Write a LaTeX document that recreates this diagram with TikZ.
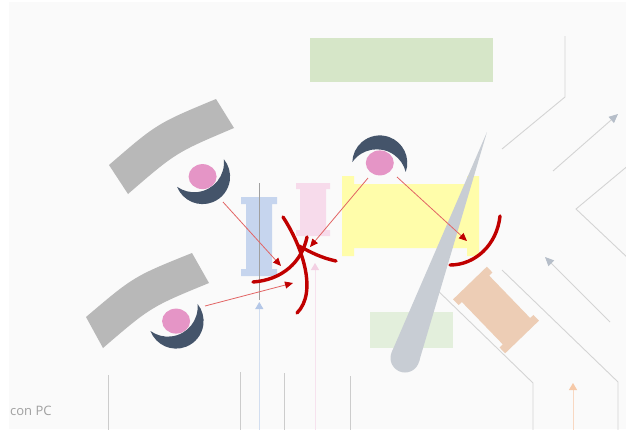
\documentclass[tikz,border=0pt]{standalone}
\usepackage{fontspec}
\setmainfont{Open Sans}
\usetikzlibrary{arrows.meta}

\definecolor{canvasbg}{HTML}{FAFAFA}
\definecolor{wire}{HTML}{D4D4D4}
\definecolor{wirearrow}{HTML}{B6BEC9}
\definecolor{wirebottom}{HTML}{CCCCCC}
\definecolor{greenA}{HTML}{D6E6C8}
\definecolor{greenB}{HTML}{E3EFDC}
\definecolor{yellowbox}{HTML}{FFFDAA}
\definecolor{bluebox}{HTML}{C6D5EE}
\definecolor{pinkbox}{HTML}{F7DBEB}
\definecolor{orangebox}{HTML}{EDCDB5}
\definecolor{bandgray}{HTML}{B8B8B8}
\definecolor{needlegray}{HTML}{C8CDD4}
\definecolor{eyedark}{HTML}{44546A}
\definecolor{eyepink}{HTML}{E595C6}
\definecolor{rayline}{HTML}{E26464}
\definecolor{darkred}{HTML}{C00000}
\definecolor{labelgray}{HTML}{A0A0A0}
\definecolor{bluewire}{HTML}{D2DEF0}
\definecolor{bluehead}{HTML}{B4C7E7}
\definecolor{pinkwire}{HTML}{F6E2EE}
\definecolor{pinkhead}{HTML}{F3D0E3}
\definecolor{orangewire}{HTML}{F8D8C2}
\definecolor{orangehead}{HTML}{F6C9A8}

% crescent eye with a pink pupil; #3 = direction of the thick side
\newcommand\placeeye[3]{%
  \begin{scope}[shift={(#1,#2)}]
    \begin{scope}[rotate=-#3]
      \fill[eyedark] (98.8:27.5) arc[start angle=98.8,end angle=-98.8,radius=27.5]
        -- ++(0,0) arc[start angle=-65.7,end angle=65.7,radius=29.8] -- cycle;
    \end{scope}
    \fill[eyepink] (0,0) ellipse (14 and 12.5);
  \end{scope}}

\begin{document}
\begin{tikzpicture}[x=1pt,y=-1pt,
  thinwire/.style={draw=wire,line width=0.9pt},
  bottomwire/.style={draw=wirebottom,line width=0.9pt},
  grayarrow/.style={draw=wire,line width=0.9pt,-{Triangle[length=9pt,width=8pt,fill=wirearrow,color=wirearrow]}},
  ray/.style={draw=rayline,line width=0.8pt,-{Triangle[length=8pt,width=7pt,color=darkred]}},
  wave/.style={draw=darkred,line width=3.4pt,line cap=round},
  band/.style={fill=bandgray},
]
\useasboundingbox (0,0) rectangle (626,429);
\fill[white] (0,0) rectangle (626,429);
\fill[canvasbg] (9,2) rectangle (626,429);

\begin{scope}
\clip (9,2) rectangle (626,429);

% background wiring
\coordinate (w1a) at (565,36);  \coordinate (w1b) at (565,97);  \coordinate (w1c) at (502,149);
\draw[thinwire] (w1a) -- (w1b) -- (w1c);
\coordinate (w3a) at (630,164); \coordinate (w3b) at (576,209); \coordinate (w3c) at (630,260);
\draw[thinwire] (w3a) -- (w3b) -- (w3c);
\coordinate (w5a) at (502,270); \coordinate (w5b) at (618,382); \coordinate (w5c) at (618,432);
\draw[thinwire] (w5a) -- (w5b) -- (w5c);
\coordinate (w6a) at (432,285); \coordinate (w6b) at (533,383); \coordinate (w6c) at (533,432);
\draw[thinwire] (w6a) -- (w6b) -- (w6c);
\coordinate (g2a) at (553,171); \coordinate (g2b) at (618,114);
\draw[grayarrow] (g2a) -- (g2b);
\coordinate (g4a) at (610,322); \coordinate (g4b) at (545,257);
\draw[grayarrow] (g4a) -- (g4b);

\foreach \xx/\yy [count=\i] in {108.7/375,240.7/372,284/373,350/376}{
  \coordinate (bt\i) at (\xx,\yy);
  \coordinate (bb\i) at (\xx,432);
  \draw[bottomwire] (bt\i) -- (bb\i);
}

% coloured arrows rising from the bottom edge
\coordinate (ba) at (259.3,432); \coordinate (bt) at (259.3,302);
\draw[draw=bluewire,line width=0.9pt,-{Triangle[length=7pt,width=8pt,color=bluehead]}] (ba) -- (bt);
\coordinate (pa) at (315,432); \coordinate (pt) at (315,263);
\draw[draw=pinkwire,line width=0.9pt,-{Triangle[length=7pt,width=8pt,color=pinkhead]}] (pa) -- (pt);
\coordinate (oa) at (573,432); \coordinate (ot) at (573,383);
\draw[draw=orangewire,line width=0.9pt,-{Triangle[length=7pt,width=8pt,color=orangehead]}] (oa) -- (ot);

% green panels
\fill[greenA] (309.5,38) rectangle (493,81.5);
\fill[greenB] (369.5,312) rectangle (452.5,347.5);

% yellow block with end plates
\fill[yellowbox] (342,176) -- (354,176) -- (354,184) -- (467,184) -- (467,176) -- (479,176)
  -- (479,256) -- (467,256) -- (467,248) -- (354,248) -- (354,256) -- (342,256) -- cycle;

% blue and pink I-pieces
\fill[bluebox] (241,197) -- (277,197) -- (277,204) -- (272,204) -- (272,269) -- (277,269)
  -- (277,276) -- (241,276) -- (241,269) -- (246,269) -- (246,204) -- (241,204) -- cycle;
\fill[pinkbox] (296,183) -- (330,183) -- (330,189) -- (326,189) -- (326,230) -- (330,230)
  -- (330,236) -- (296,236) -- (296,230) -- (300,230) -- (300,189) -- (296,189) -- cycle;

% orange piece, tilted
\begin{scope}[shift={(496,310)},rotate=-46]
  \fill[orangebox] (-37.5,-23.5) -- (-29.5,-23.5) -- (-29.5,-19) -- (29.5,-19) -- (29.5,-23.5)
    -- (37.5,-23.5) -- (37.5,23.5) -- (29.5,23.5) -- (29.5,19) -- (-29.5,19) -- (-29.5,23.5)
    -- (-37.5,23.5) -- cycle;
\end{scope}

% curved gray bands
\fill[band] (109,165) .. controls (157,123.5) .. (216,99) -- (234,128)
  .. controls (176,152.5) .. (128,194) -- cycle;
\fill[band] (86,317) .. controls (133.8,276.4) .. (192,253) -- (209,283)
  .. controls (150.8,306.9) .. (103,348) -- cycle;

% needle
\fill[needlegray] (487,132) -- (418.9,362.1) -- (391.7,352.2) -- cycle;
\fill[needlegray] (405,358) circle (14.5);

% gray post through the blue piece
\coordinate (post1) at (259.3,183); \coordinate (post2) at (259.3,300);
\draw[draw=labelgray,line width=1.4pt] (post1) -- (post2);

% eyes
\placeeye{202.6}{176.6}{59.3}
\placeeye{176.1}{321.1}{60}
\placeeye{379.8}{162.9}{-79.6}

% wave fronts
\draw[wave] (283,217) .. controls (302,246) and (318,292) .. (297,313);
\draw[wave] (253,282) .. controls (282,280) and (302,262) .. (307,237);
\draw[wave] (299,246) .. controls (312,253) and (322,258) .. (336,261);
\draw[wave] (500,216) .. controls (497,245) and (475,265) .. (450,265);

% rays
\coordinate (r1a) at (223,202); \coordinate (r1b) at (281,266);
\coordinate (r2a) at (205,306); \coordinate (r2b) at (293,283);
\coordinate (r3a) at (368,178); \coordinate (r3b) at (310,247);
\coordinate (r4a) at (397,177); \coordinate (r4b) at (467,241);
\draw[ray] (r1a) -- (r1b);
\draw[ray] (r2a) -- (r2b);
\draw[ray] (r3a) -- (r3b);
\draw[ray] (r4a) -- (r4b);

% label
\node[anchor=base west,inner sep=0pt,text=labelgray,font=\fontsize{13}{15}\selectfont] (pclabel) at (10,415) {con PC};
\end{scope}
\end{tikzpicture}
\end{document}
